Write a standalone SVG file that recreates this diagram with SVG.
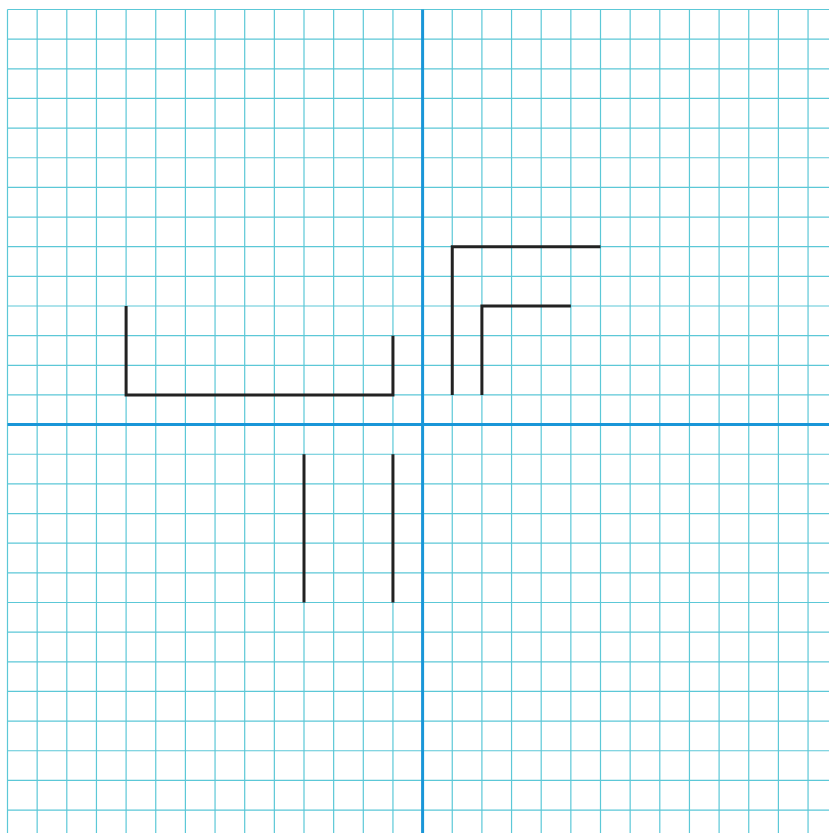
<svg xmlns="http://www.w3.org/2000/svg" width="829" height="833" viewBox="0 0 829 833">
<style>
.grid{stroke:#5cc8d7;stroke-width:1.2;fill:none}
.axis{stroke:#1996d8;stroke-width:3;fill:none}
.shape{stroke:#222;stroke-width:3;fill:none;stroke-linecap:butt;stroke-linejoin:miter}
</style>
<rect width="829" height="833" fill="#fff"/>
<g id="grid">
<path class="grid" d="M7.5 9.5V833M37.15 9.5V833M66.8 9.5V833M96.45 9.5V833M126.1 9.5V833M155.75 9.5V833M185.4 9.5V833M215.05 9.5V833M244.7 9.5V833M274.35 9.5V833M304 9.5V833M333.65 9.5V833M363.3 9.5V833M392.95 9.5V833M452.25 9.5V833M481.9 9.5V833M511.55 9.5V833M541.2 9.5V833M570.85 9.5V833M600.5 9.5V833M630.15 9.5V833M659.8 9.5V833M689.45 9.5V833M719.1 9.5V833M748.75 9.5V833M778.4 9.5V833M808.05 9.5V833
M7.5 9.5H829M7.5 39.15H829M7.5 68.8H829M7.5 98.45H829M7.5 128.1H829M7.5 157.75H829M7.5 187.4H829M7.5 217.05H829M7.5 246.7H829M7.5 276.35H829M7.5 306H829M7.5 335.65H829M7.5 365.3H829M7.5 394.95H829M7.5 454.25H829M7.5 483.9H829M7.5 513.55H829M7.5 543.2H829M7.5 572.85H829M7.5 602.5H829M7.5 632.15H829M7.5 661.8H829M7.5 691.45H829M7.5 721.1H829M7.5 750.75H829M7.5 780.4H829M7.5 810.05H829"/>
</g>
<g id="axes">
<path class="axis" d="M422.6 9.5V833M7.5 424.6H829"/>
</g>
<g id="shapes">
<path id="u-shape" class="shape" d="M126.1 306V394.95H392.95V335.65"/>
<path id="bar-left" class="shape" d="M304 454.25V602.5"/>
<path id="bar-right" class="shape" d="M392.95 454.25V602.5"/>
<path id="l-outer" class="shape" d="M452.25 394.95V246.7H600.5"/>
<path id="l-inner" class="shape" d="M481.9 394.95V306H570.85"/>
</g>
</svg>
